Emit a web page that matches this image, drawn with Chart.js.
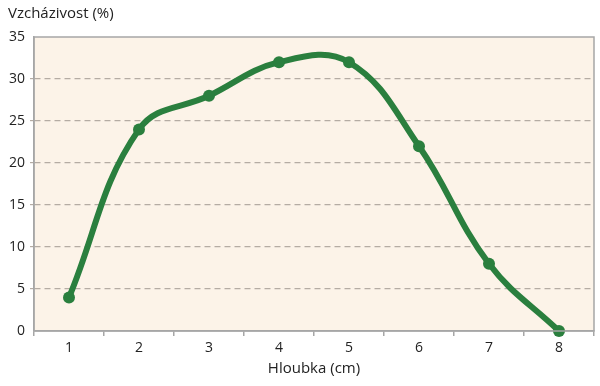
<!DOCTYPE html>
<html>
<head>
<meta charset="utf-8">
<script src="https://cdn.jsdelivr.net/npm/chart.js@4"></script>
<style>
  html, body { margin: 0; padding: 0; background: #fff; }
  #wrap { width: 600px; height: 386px; }
</style>
</head>
<body>
<div id="wrap"><canvas id="chart"></canvas></div>
<script>
// Data
const depths = ['1', '2', '3', '4', '5', '6', '7', '8'];
const germination = [4, 24, 28, 32, 32, 22, 8, 0];

const green = '#2a7f3e';
const axisGray = '#a6a6a6';

// Plot area background + frame
const plotFrame = {
    id: 'plotFrame',
    beforeDraw: (chart) => {
        const { ctx, chartArea: a } = chart;
        ctx.save();
        ctx.fillStyle = '#fcf3e8';
        ctx.fillRect(a.left, a.top, a.right - a.left, a.bottom - a.top);
        ctx.restore();
    },
    afterDatasetsDraw: (chart) => {
        const { ctx, chartArea: a } = chart;
        ctx.save();
        ctx.strokeStyle = axisGray;
        ctx.lineWidth = 1.5;
        ctx.strokeRect(a.left, a.top, a.right - a.left, a.bottom - a.top);
        ctx.restore();
    }
};

Chart.defaults.font.family = '"Open Sans", sans-serif';
Chart.defaults.color = '#222';

new Chart(document.getElementById('chart'), {
    type: 'line',
    data: {
        labels: depths,
        datasets: [{
            data: germination,
            borderColor: green,
            backgroundColor: green,
            borderWidth: 6,
            pointRadius: 6,
            pointBackgroundColor: green,
            pointBorderWidth: 0,
            tension: 0.4,
            clip: 20
        }]
    },
    options: {
        animation: false,
        responsive: true,
        maintainAspectRatio: false,
        layout: { padding: { left: 8, right: 6, top: 0, bottom: 8 } },
        scales: {
            x: {
                offset: true,
                grid: {
                    offset: true,
                    drawOnChartArea: false,
                    color: axisGray,
                    tickLength: 5,
                    lineWidth: 1.5
                },
                border: { color: axisGray, width: 1.5 },
                ticks: { font: { size: 14 }, padding: 4 },
                title: {
                    display: true,
                    text: 'Hloubka (cm)',
                    font: { size: 15 },
                    padding: { top: 0, bottom: 0 }
                },
                afterFit: (scale) => { scale.height = 47; }
            },
            y: {
                min: 0,
                max: 35,
                ticks: { stepSize: 5, font: { size: 14 }, padding: 5 },
                grid: {
                    color: (c) => (c.tick.value === 0 || c.tick.value === 35) ? 'rgba(0,0,0,0)' : '#b5aca3',
                    lineWidth: 1.2,
                    tickLength: 4
                },
                border: { color: axisGray, width: 1.5, dash: [6, 4] },
                afterFit: (scale) => { scale.width = 26; }
            }
        },
        plugins: {
            legend: { display: false },
            tooltip: { enabled: false },
            title: {
                display: true,
                text: 'Vzcházivost (%)',
                align: 'start',
                font: { size: 15, weight: 'normal' },
                color: '#222',
                padding: { top: 5, bottom: 14 }
            }
        }
    },
    plugins: [plotFrame]
});
</script>
</body>
</html>
